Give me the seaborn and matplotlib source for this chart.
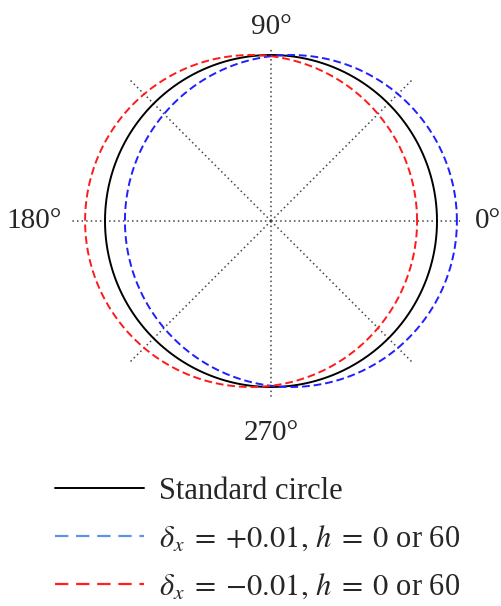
import numpy as np
import pandas as pd
import matplotlib.pyplot as plt
import seaborn as sns
from matplotlib.lines import Line2D

# circle data (radius normalised to the standard circle)
radius = 1.0
offset_labels = ["Standard circle", "plus", "minus"]
offsets = [0.0, 0.12, -0.12]          # visual shift of the centre along x
line_colors = ["black", "#1f1fff", "#ff1a1a"]
legend_colors = ["black", "#5f93e3", "#ff2020"]
legend_texts = ["Standard circle",
                r"$\delta_x\;=\;{+}0.01,\, h\;=\;0$ or 60",
                r"$\delta_x\;=\;{-}0.01,\, h\;=\;0$ or 60"]

# spokes (dotted guide lines)
spoke_deg = [0, 45, 90, 135, 180, 225, 270, 315]
spoke_len = [1.14, 1.2, 1.05, 1.2, 1.2, 1.2, 1.06, 1.2]

# angle labels
label_deg = [90, 180, 0, 270]
label_txt = ["90°", "180°", "0°", "270°"]
label_r = [1.17, 1.26, 1.23, 1.28]
label_ha = ["center", "right", "left", "center"]

sns.set_style("white")
plt.rcParams["font.family"] = ["Liberation Serif", "DejaVu Serif"]
plt.rcParams["mathtext.fontset"] = "stix"

fig = plt.figure(figsize=(5.02, 6.06), dpi=100)
ax = fig.add_axes([63.5 / 502, 177.5 / 606, 415 / 502, 415 / 606], projection="polar")

theta = np.linspace(0, 2 * np.pi, 721)
rows = []
for name, d in zip(offset_labels, offsets):
    r = d * np.cos(theta) + np.sqrt(radius ** 2 - (d * np.sin(theta)) ** 2)
    rows.append(pd.DataFrame({"theta": theta, "r": r, "curve": name}))
df = pd.concat(rows)

# spokes
for a, L in zip(spoke_deg, spoke_len):
    t = np.deg2rad(a)
    ax.plot([t, t], [0, L], color="#444444", lw=1.1, linestyle=(0, (1, 2)))

# curves
for name, col in zip(offset_labels, line_colors):
    sub = df[df["curve"] == name]
    ls = "-" if name == "Standard circle" else (0, (4, 2))
    sns.lineplot(data=sub, x="theta", y="r", ax=ax, sort=False, estimator=None,
                 color=col, lw=1.4, linestyle=ls)

for a, txt, rr, ha in zip(label_deg, label_txt, label_r, label_ha):
    ax.text(np.deg2rad(a), rr, txt, ha=ha, va="center", fontsize=21)

ax.set_rlim(0, 1.25)
ax.grid(False)
ax.set_xticks([])
ax.set_yticks([])
ax.set_xlabel("")
ax.set_ylabel("")
ax.spines["polar"].set_visible(False)
ax.patch.set_alpha(0)

handles = [
    Line2D([], [], color=legend_colors[0], lw=1.4, linestyle="-"),
    Line2D([], [], color=legend_colors[1], lw=1.6, linestyle=(0, (6, 3.5))),
    Line2D([], [], color=legend_colors[2], lw=1.6, linestyle=(0, (6, 3.5))),
]
fig.legend(handles, legend_texts, loc="upper left", bbox_to_anchor=(0.11, 0.213),
           frameon=False, fontsize=22, handlelength=2.9, handletextpad=0.5,
           labelspacing=0.6, borderpad=0, borderaxespad=0)

fig.savefig("out.png", dpi=100)
